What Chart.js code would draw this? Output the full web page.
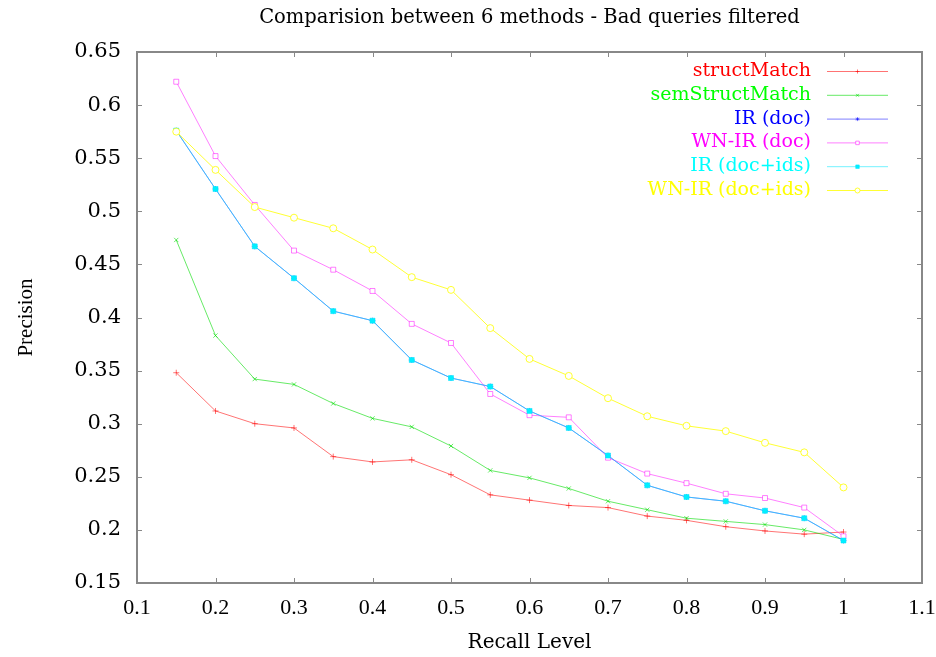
<!DOCTYPE html>
<html>
<head>
<meta charset="utf-8">
<script src="https://cdn.jsdelivr.net/npm/chart.js@4/dist/chart.umd.min.js"></script>
<style>
    html, body { margin: 0; padding: 0; background: #ffffff; }
    #wrap { width: 936px; height: 657px; }
</style>
</head>
<body>
<div id="wrap"><canvas id="precisionChart" width="936" height="657"></canvas></div>
<script>
// recall levels on the x axis
const recallLevels = [0.15, 0.2, 0.25, 0.3, 0.35, 0.4, 0.45, 0.5, 0.55, 0.6, 0.65, 0.7, 0.75, 0.8, 0.85, 0.9, 0.95, 1.0];

const structMatch = [0.348, 0.312, 0.300, 0.296, 0.269, 0.264, 0.266, 0.252, 0.233, 0.228, 0.223, 0.221, 0.213, 0.209, 0.203, 0.199, 0.196, 0.198];
const semStructMatch = [0.473, 0.383, 0.342, 0.337, 0.319, 0.305, 0.297, 0.279, 0.256, 0.249, 0.239, 0.227, 0.219, 0.211, 0.208, 0.205, 0.200, 0.191];
const irDoc = [0.576, 0.521, 0.467, 0.437, 0.406, 0.397, 0.360, 0.343, 0.335, 0.312, 0.296, 0.270, 0.242, 0.231, 0.227, 0.218, 0.211, 0.190];
const wnIrDoc = [0.622, 0.552, 0.506, 0.463, 0.445, 0.425, 0.394, 0.376, 0.328, 0.308, 0.306, 0.268, 0.253, 0.244, 0.234, 0.230, 0.221, 0.194];
const irDocIds = [0.576, 0.521, 0.467, 0.437, 0.406, 0.397, 0.360, 0.343, 0.335, 0.312, 0.296, 0.270, 0.242, 0.231, 0.227, 0.218, 0.211, 0.190];
const wnIrDocIds = [0.575, 0.539, 0.504, 0.494, 0.484, 0.464, 0.438, 0.426, 0.390, 0.361, 0.345, 0.324, 0.307, 0.298, 0.293, 0.282, 0.273, 0.240];

const xTicks = [0.1, 0.2, 0.3, 0.4, 0.5, 0.6, 0.7, 0.8, 0.9, 1, 1.1];
const xTickLabels = ["0.1", "0.2", "0.3", "0.4", "0.5", "0.6", "0.7", "0.8", "0.9", "1", "1.1"];
const yTicks = [0.15, 0.2, 0.25, 0.3, 0.35, 0.4, 0.45, 0.5, 0.55, 0.6, 0.65];
const yTickLabels = ["0.15", "0.2", "0.25", "0.3", "0.35", "0.4", "0.45", "0.5", "0.55", "0.6", "0.65"];

const SERIF = "'Liberation Serif', 'Times New Roman', serif";
const WIDE_SERIF = "'DejaVu Serif', serif";

function points(values) {
    return recallLevels.map((x, i) => ({x: x, y: values[i]}));
}

function labelFor(value, ticks, labels) {
    const idx = ticks.findIndex(t => Math.abs(t - value) < 1e-6);
    return idx >= 0 ? labels[idx] : "";
}

// gnuplot style frame with inward ticks on all four sides
const frameTicks = {
    id: "frameTicks",
    beforeDatasetsDraw(chart) {
        const {ctx, chartArea} = chart;
        const xs = chart.scales.x;
        const ys = chart.scales.y;
        ctx.save();
        ctx.strokeStyle = "#888888";
        ctx.lineWidth = 2;
        ctx.strokeRect(chartArea.left, chartArea.top, chartArea.right - chartArea.left, chartArea.bottom - chartArea.top);
        ctx.lineWidth = 1;
        ctx.beginPath();
        for (const t of xTicks) {
            const px = Math.round(xs.getPixelForValue(t)) + 0.5;
            ctx.moveTo(px, chartArea.bottom);
            ctx.lineTo(px, chartArea.bottom - 5);
            ctx.moveTo(px, chartArea.top);
            ctx.lineTo(px, chartArea.top + 5);
        }
        for (const t of yTicks) {
            const py = Math.round(ys.getPixelForValue(t)) + 0.5;
            ctx.moveTo(chartArea.left, py);
            ctx.lineTo(chartArea.left + 5, py);
            ctx.moveTo(chartArea.right, py);
            ctx.lineTo(chartArea.right - 5, py);
        }
        ctx.stroke();
        ctx.restore();
    }
};

// legend in the top right corner: text first, then the line sample
const rightLegend = {
    id: "rightLegend",
    afterDraw(chart) {
        const {ctx, chartArea} = chart;
        const textRight = chartArea.right - 111;
        const lineStart = chartArea.right - 95;
        const lineEnd = chartArea.right - 34;
        ctx.save();
        ctx.font = "19px " + WIDE_SERIF;
        ctx.textAlign = "right";
        ctx.textBaseline = "middle";
        chart.data.datasets.forEach((ds, i) => {
            const y = chartArea.top + 19 + i * 23.8;
            ctx.fillStyle = ds.textColor;
            ctx.fillText(ds.label, textRight, y);
            ctx.strokeStyle = ds.borderColor;
            ctx.lineWidth = 1;
            ctx.beginPath();
            ctx.moveTo(lineStart, y + 0.5);
            ctx.lineTo(lineEnd, y + 0.5);
            ctx.stroke();
            ctx.fillStyle = ds.pointBackgroundColor;
            ctx.strokeStyle = ds.pointBorderColor;
            Chart.helpers.drawPoint(ctx, {
                pointStyle: ds.pointStyle,
                radius: ds.pointRadius - 1,
                rotation: 0,
                borderWidth: ds.pointBorderWidth
            }, (lineStart + lineEnd) / 2, y + 0.5);
        });
        ctx.restore();
    }
};

function series(label, values, textColor, lineColor, pointStyle, pointFill, radius, order) {
    return {
        label: label,
        data: points(values),
        textColor: textColor,
        borderColor: lineColor,
        borderWidth: 1,
        pointStyle: pointStyle,
        pointRadius: radius,
        pointBorderColor: lineColor,
        pointBackgroundColor: pointFill,
        pointBorderWidth: 1,
        fill: false,
        tension: 0,
        order: order
    };
}

const datasets = [
    series("structMatch", structMatch, "#ff0000", "rgba(255,0,0,0.55)", "cross", "rgba(255,0,0,0.55)", 3, 6),
    series("semStructMatch", semStructMatch, "#00ff00", "rgba(0,220,0,0.6)", "crossRot", "rgba(0,220,0,0.6)", 3, 5),
    series("IR (doc)", irDoc, "#0000ff", "rgba(0,0,255,0.5)", "star", "rgba(0,0,255,0.5)", 3, 4),
    series("WN-IR (doc)", wnIrDoc, "#ff00ff", "rgba(255,0,255,0.5)", "rect", "#ffffff", 3.5, 3),
    series("IR (doc+ids)", irDocIds, "#00ffff", "rgba(0,230,255,0.55)", "rect", "#00f0ff", 3.5, 2),
    series("WN-IR (doc+ids)", wnIrDocIds, "#ffff00", "rgba(255,255,0,0.8)", "circle", "#ffffff", 3.5, 1)
];

const config = {
    type: "line",
    data: {datasets: datasets},
    options: {
        responsive: false,
        animation: false,
        devicePixelRatio: 1,
        layout: {
            padding: {top: 4, right: 14, bottom: 0, left: 8}
        },
        plugins: {
            legend: {display: false},
            tooltip: {enabled: false},
            title: {
                display: true,
                text: "Comparision between 6 methods - Bad queries filtered",
                fullSize: false,
                color: "#000000",
                font: {family: WIDE_SERIF, size: 19.5, weight: "normal"},
                padding: {top: 2, bottom: 22.6}
            }
        },
        scales: {
            x: {
                type: "linear",
                min: 0.1,
                max: 1.1,
                afterBuildTicks: (scale) => { scale.ticks = xTicks.map(v => ({value: v})); },
                afterFit: (scale) => {
                    scale.height = 74;
                    scale.paddingLeft = 0;
                    scale.paddingRight = 0;
                },
                grid: {display: false, drawTicks: false},
                border: {display: false},
                ticks: {
                    padding: 12,
                    color: "#000000",
                    font: {family: SERIF, size: 22},
                    maxRotation: 0,
                    autoSkip: false,
                    callback: (v) => labelFor(v, xTicks, xTickLabels)
                },
                title: {
                    display: true,
                    text: "Recall Level",
                    color: "#000000",
                    font: {family: WIDE_SERIF, size: 20},
                    padding: {top: 4, bottom: 2}
                }
            },
            y: {
                type: "linear",
                min: 0.15,
                max: 0.65,
                afterBuildTicks: (scale) => { scale.ticks = yTicks.map(v => ({value: v})); },
                afterFit: (scale) => { scale.width = 129; },
                grid: {display: false, drawTicks: false},
                border: {display: false},
                ticks: {
                    padding: 16,
                    color: "#000000",
                    font: {family: WIDE_SERIF, size: 21},
                    autoSkip: false,
                    callback: (v) => labelFor(v, yTicks, yTickLabels)
                },
                title: {
                    display: true,
                    text: "Precision",
                    color: "#000000",
                    font: {family: SERIF, size: 21},
                    padding: {top: 6, bottom: 0}
                }
            }
        }
    },
    plugins: [frameTicks, rightLegend]
};

const precisionChart = new Chart(document.getElementById("precisionChart").getContext("2d"), config);
</script>
</body>
</html>
